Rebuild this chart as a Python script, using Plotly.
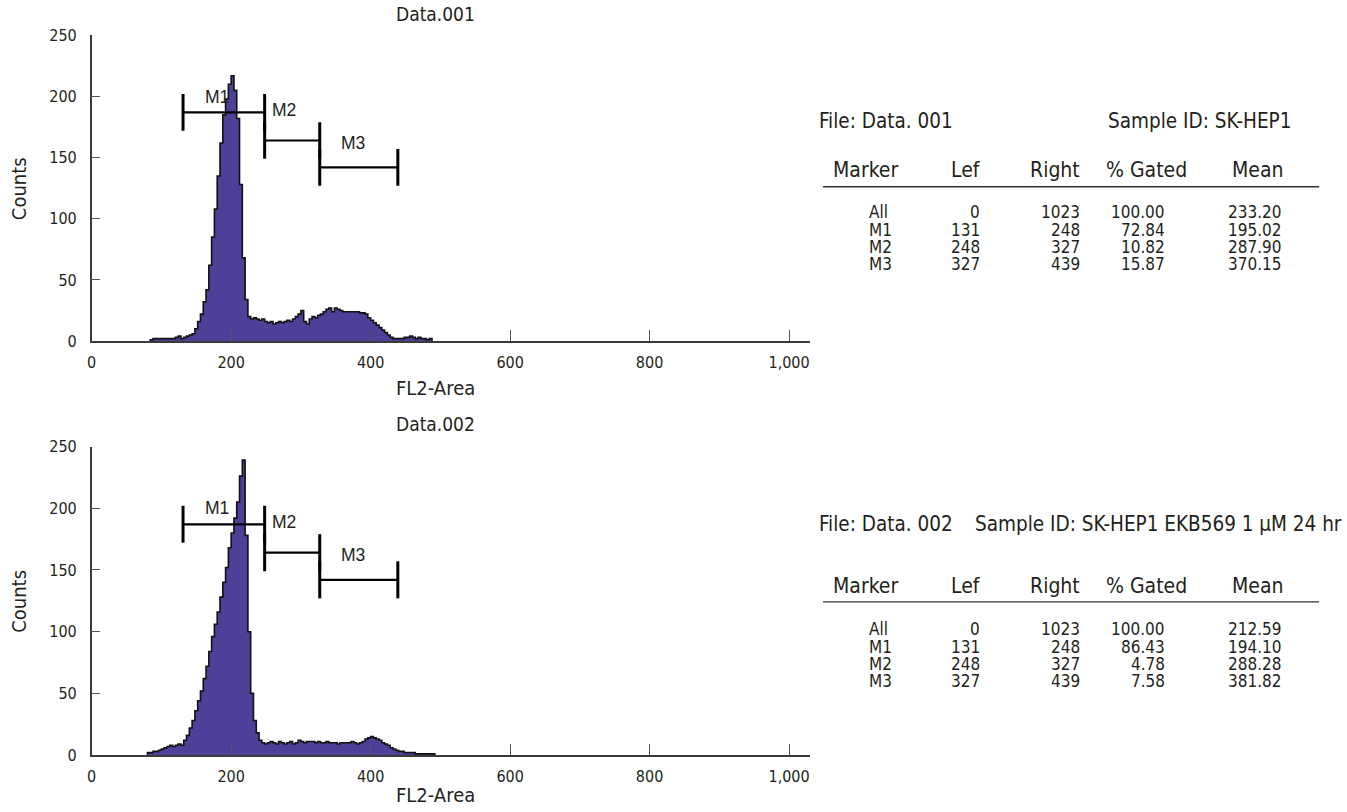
import plotly.graph_objects as go

W, H = 1347, 812

# ---------------- data ----------------
bin_width = 4
top_start = 84
top_counts = [1, 2, 2, 2, 2, 2, 2, 2, 2, 3, 4, 2, 3, 4, 5, 6, 10, 16, 22, 32,
              42, 62, 85, 108, 135, 162, 185, 198, 210, 217, 205, 182, 128, 68, 34, 20,
              18, 19, 18, 17, 18, 16, 15, 16, 14, 15, 16, 15, 16, 17, 16, 18, 20, 22,
              25, 16, 14, 18, 20, 19, 21, 22, 24, 26, 27, 24, 27, 26, 25, 24, 24, 24,
              24, 24, 24, 23, 23, 22, 19, 17, 15, 13, 11, 9, 7, 5, 3, 2, 2, 2, 2, 3,
              3, 4, 3, 2, 3, 2, 2, 1, 2]
bot_start = 80
bot_counts = [2, 2, 3, 3, 4, 5, 6, 7, 8, 7, 8, 9, 8, 12, 16, 22, 28, 36, 44, 52,
              62, 72, 84, 96, 106, 116, 128, 140, 152, 168, 180, 192, 205, 226, 239, 178,
              100, 50, 28, 18, 12, 10, 9, 10, 11, 10, 9, 11, 10, 9, 10, 11, 9, 10, 12,
              11, 10, 11, 11, 11, 10, 11, 10, 10, 11, 10, 10, 10, 9, 10, 10, 10, 10, 11,
              10, 9, 10, 11, 13, 14, 15, 14, 13, 12, 10, 9, 8, 6, 5, 4, 3, 3, 2, 2, 2,
              2, 1, 1, 1, 1, 1, 1, 1]

markers = ["M1", "M2", "M3"]
gate_left = [131, 248, 327]
gate_right = [248, 327, 439]
gate_level = [187, 164, 142]
label_x = [180, 276, 375]
label_y = [200, 189, 162]

x_ticks = [0, 200, 400, 600, 800, 1000]
y_ticks = [0, 50, 100, 150, 200, 250]

table_header = ["Marker", "Lef", "Right", "% Gated", "Mean"]
rows_marker = ["All", "M1", "M2", "M3"]
rows_left = [0, 131, 248, 327]
rows_right = [1023, 248, 327, 439]
top_gated = ["100.00", "72.84", "10.82", "15.87"]
top_mean = ["233.20", "195.02", "287.90", "370.15"]
bot_gated = ["100.00", "86.43", "4.78", "7.58"]
bot_mean = ["212.59", "194.10", "288.28", "381.82"]

panels = [
    dict(title="Data.001", start=top_start, counts=top_counts,
         file="File: Data. 001", sample="Sample ID: SK-HEP1", sample_x=1199, sample_anchor="center",
         gated=top_gated, mean=top_mean, plot=(27, 340), title_y=5, xt_y=388,
         file_y=115, head_y=165, line_y=182, row_y=208),
    dict(title="Data.002", start=bot_start, counts=bot_counts,
         file="File: Data. 002", sample="Sample ID: SK-HEP1 EKB569 1 μM 24 hr",
         sample_x=1344, sample_anchor="right", gated=bot_gated, mean=bot_mean, plot=(448, 764),
         title_y=425, xt_y=805, file_y=527, head_y=591, line_y=607, row_y=635),
]

# ---------------- layout helpers ----------------
def px(x):
    return x / W

def py(y):
    return 1 - y / H

NARROW = "DejaVu Sans Condensed, Liberation Sans Narrow, Arial Narrow, sans-serif"
REG = "Liberation Sans, Arial, sans-serif"
TXT = "#231F20"
FILL = "#4F3F98"

x_left_px, x_right_px = 87, 808
x_range = [0, 1030]

fig = go.Figure()
annotations = []
shapes = []


def note(x, y, text, size, xa="center", family=NARROW, angle=0):
    annotations.append(dict(x=px(x), y=py(y), xref="paper", yref="paper", text=text,
                            showarrow=False, xanchor=xa, yanchor="middle", textangle=angle,
                            font=dict(family=family, size=size, color=TXT)))


for i, p in enumerate(panels):
    xa = "x" if i == 0 else "x2"
    ya = "y" if i == 0 else "y2"
    starts = [p["start"] + k * bin_width for k in range(len(p["counts"]))]
    end = starts[-1] + bin_width
    xs = [starts[0]] + starts + [end]
    ys = [0] + p["counts"] + [0]
    fig.add_trace(go.Scatter(
        x=xs, y=ys, mode="lines", line=dict(shape="hv", color="#111111", width=1.6),
        fill="tozeroy", fillcolor=FILL, xaxis=xa, yaxis=ya, showlegend=False,
        hoverinfo="skip"))
    # gate markers
    for m, l, r, lev, lx, ly in zip(markers, gate_left, gate_right, gate_level, label_x, label_y):
        fig.add_trace(go.Scatter(x=[l, r], y=[lev, lev], mode="lines",
                                 line=dict(color="black", width=2.2),
                                 xaxis=xa, yaxis=ya, showlegend=False, hoverinfo="skip"))
        for xe in (l, r):
            fig.add_trace(go.Scatter(x=[xe, xe], y=[lev - 15, lev + 15], mode="lines",
                                     line=dict(color="black", width=3),
                                     xaxis=xa, yaxis=ya, showlegend=False, hoverinfo="skip"))
        annotations.append(dict(x=lx, y=ly, xref=xa, yref=ya, text=m, showarrow=False,
                                font=dict(family=REG, size=17.5, color=TXT),
                                xanchor="center", yanchor="middle"))

    t, b = p["plot"]
    note(432, p["title_y"], p["title"], 19)
    note(432, p["xt_y"], "FL2-Area", 20)
    note(14, (t + b) / 2, "Counts", 20, angle=-90)

    # table
    fy = p["file_y"]
    note(815, fy, p["file"], 20.5, xa="left")
    note(p["sample_x"], fy, p["sample"], 20.5, xa=p["sample_anchor"])
    hy = p["head_y"]
    col_x = [864, 965, 1081, 1146, 1258]
    col_anchor = ["center", "center", "right", "center", "center"]
    for h, cx, an in zip(table_header, col_x, col_anchor):
        note(cx, hy, h, 21, xa=an)
    ly_ = p["line_y"]
    shapes.append(dict(type="line", xref="paper", yref="paper",
                       x0=px(821), x1=px(1319), y0=py(ly_), y1=py(ly_),
                       line=dict(color="#333333", width=1.3)))
    for r in range(4):
        ry = p["row_y"] + r * 17.8
        vals = [rows_marker[r], str(rows_left[r]), str(rows_right[r]), p["gated"][r], p["mean"][r]]
        vx = [865, 981, 1081, 1166, 1284]
        va = ["left", "right", "right", "right", "right"]
        for v, cx, an in zip(vals, vx, va):
            note(cx, ry, v, 17, xa=an)

axis_common = dict(showline=True, linecolor="#3a3a3a", linewidth=1.5, ticks="inside",
                   tickcolor="#555555", tickwidth=1, showgrid=False, zeroline=False,
                   tickfont=dict(family=NARROW, size=16, color=TXT))

fig.update_layout(
    width=W, height=H, margin=dict(l=0, r=0, t=0, b=0),
    paper_bgcolor="white", plot_bgcolor="white", showlegend=False,
    xaxis=dict(domain=[px(x_left_px), px(x_right_px)], range=x_range, anchor="y",
               tickvals=x_ticks, tickformat=",", ticklen=11, ticklabelstandoff=6, **axis_common),
    yaxis=dict(domain=[py(panels[0]["plot"][1]), py(panels[0]["plot"][0])], range=[0, 250],
               anchor="x", tickvals=y_ticks, ticklen=9, ticklabelstandoff=10, **axis_common),
    xaxis2=dict(domain=[px(x_left_px), px(x_right_px)], range=x_range, anchor="y2",
                tickvals=x_ticks, tickformat=",", ticklen=11, ticklabelstandoff=6, **axis_common),
    yaxis2=dict(domain=[py(panels[1]["plot"][1]), py(panels[1]["plot"][0])], range=[0, 250],
                anchor="x2", tickvals=y_ticks, ticklen=9, ticklabelstandoff=10, **axis_common),
    annotations=annotations, shapes=shapes,
)

fig.write_html("out.html", config={"displayModeBar": False},
               post_script="document.body.style.margin='0';document.body.style.overflow='hidden';")
